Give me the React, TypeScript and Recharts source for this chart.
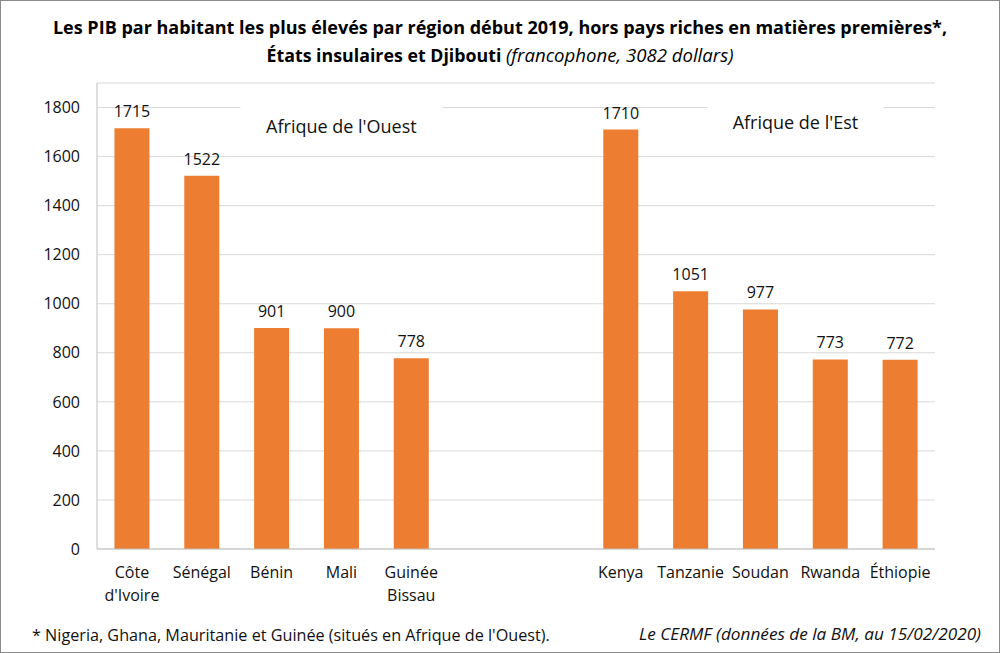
import React from 'react';
import { BarChart, Bar, XAxis, YAxis, CartesianGrid, LabelList, ReferenceDot } from 'recharts';

const categories = ["Côte d'Ivoire", 'Sénégal', 'Bénin', 'Mali', 'Guinée Bissau', ' ', '  ', 'Kenya', 'Tanzanie', 'Soudan', 'Rwanda', 'Éthiopie'];
const values: (number | null)[] = [1715, 1522, 901, 900, 778, null, null, 1710, 1051, 977, 773, 772];
const tickLabels: string[][] = [["Côte", "d'Ivoire"], ['Sénégal'], ['Bénin'], ['Mali'], ['Guinée', 'Bissau'], [], [], ['Kenya'], ['Tanzanie'], ['Soudan'], ['Rwanda'], ['Éthiopie']];
const yTicks = [0, 200, 400, 600, 800, 1000, 1200, 1400, 1600, 1800];
const regionLabels = ["Afrique de l'Ouest", "Afrique de l'Est"];
const titleLine1 = 'Les PIB par habitant les plus élevés par région début 2019, hors pays riches en matières premières*,';
const titleLine2Bold = 'États insulaires et Djibouti';
const titleLine2Italic = '(francophone, 3082 dollars)';
const footLeft = "* Nigeria, Ghana, Mauritanie et Guinée (situés en Afrique de l'Ouest).";
const footRight = 'Le CERMF (données de la BM, au 15/02/2020)';

const data = categories.map((c, i) => ({ name: c, value: values[i] }));

const FONT = '"Open Sans", sans-serif';
const TEXT = '#111';

const CategoryTick = (props: any) => {
  const { x, y, index } = props;
  const lines = tickLabels[index] || [];
  return (
    <text x={x} y={y} textAnchor="middle" fontFamily={FONT} fontSize={16} fill={TEXT}>
      {lines.map((l, i) => (
        <tspan key={i} x={x} dy={i === 0 ? 29 : 23}>{l}</tspan>
      ))}
    </text>
  );
};

const RegionLabel = (props: any) => {
  const { cx, cy, text, shift, half } = props;
  const c = cx + shift;
  return (
    <g>
      <rect x={c - half} y={cy - 28} width={half * 2} height={46} fill="#fff" />
      <text x={c} y={cy} textAnchor="middle" dominantBaseline="central" fontFamily={FONT} fontSize={18} fill={TEXT}>
        {text}
      </text>
    </g>
  );
};

export default function App() {
  return (
    <div style={{ position: 'absolute', left: 0, top: 0, width: 1000, height: 653, background: '#fff', fontFamily: FONT }}>
      <div style={{ position: 'absolute', left: 0, top: 14, width: 1000, textAlign: 'center', fontWeight: 700, fontSize: 18, lineHeight: '27px', color: '#000' }}>
        <div>{titleLine1}</div>
        <div>
          <span style={{ fontSize: 17.8 }}>{titleLine2Bold}</span>{' '}
          <span style={{ fontStyle: 'italic', fontWeight: 400, fontSize: 18.6 }}>{titleLine2Italic}</span>
        </div>
      </div>
      <div style={{ position: 'absolute', left: 0, top: 0 }}>
        <BarChart width={1000} height={653} data={data} margin={{ top: 83, right: 65, bottom: 74, left: 0 }} barCategoryGap="25%">
          <CartesianGrid vertical={false} stroke="#D9D9D9" />
          <XAxis dataKey="name" height={30} tickSize={0} tickMargin={0} axisLine={{ stroke: '#BFBFBF' }} tickLine={false} tick={<CategoryTick />} interval={0} />
          <YAxis width={97} domain={[0, 1900]} ticks={yTicks} tickSize={0} tickMargin={17} tickLine={false} axisLine={{ stroke: '#BFBFBF' }} tick={{ fontFamily: FONT, fontSize: 16, fill: TEXT }} />
          <Bar dataKey="value" fill="#ED7D31" isAnimationActive={false}>
            <LabelList dataKey="value" position="top" offset={11} fontFamily={FONT} fontSize={16} fill={TEXT} />
          </Bar>
          <ReferenceDot x="Mali" y={1725} r={0} isFront shape={(p: any) => <RegionLabel {...p} text={regionLabels[0]} shift={0} half={101} />} />
          <ReferenceDot x="Soudan" y={1741} r={0} isFront shape={(p: any) => <RegionLabel {...p} text={regionLabels[1]} shift={35} half={88} />} />
        </BarChart>
      </div>
      <div style={{ position: 'absolute', left: 32, top: 625, fontSize: 16.2, lineHeight: '20px', color: TEXT, whiteSpace: 'nowrap' }}>{footLeft}</div>
      <div style={{ position: 'absolute', right: 19, top: 624, fontSize: 17.2, lineHeight: '20px', color: TEXT, fontStyle: 'italic', whiteSpace: 'nowrap' }}>{footRight}</div>
      <div style={{ position: 'absolute', left: 0, top: 0, width: 1000, height: 653, boxSizing: 'border-box', border: '1px solid #8C8C8C', pointerEvents: 'none' }} />
    </div>
  );
}
